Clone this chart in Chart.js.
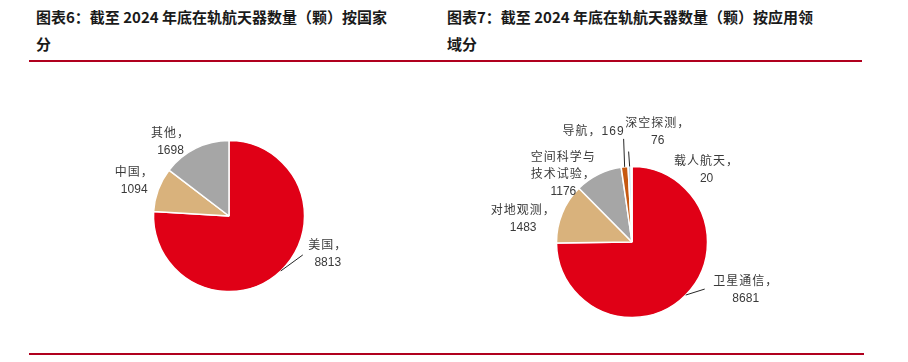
<!DOCTYPE html>
<html>
<head>
<meta charset="utf-8">
<script src="https://cdn.jsdelivr.net/npm/chart.js@4.4.1/dist/chart.umd.min.js"></script>
<style>
  body { margin: 0; width: 908px; height: 362px; background: #fff; overflow: hidden; position: relative;
         font-family: "Noto Sans CJK SC", sans-serif; }
  .title { position: absolute; top: 3px; font-size: 15px; font-weight: bold; line-height: 27px; color: #1a1a1a; white-space: nowrap; }
  .rule { position: absolute; height: 2px; background: #B0001E; }
  canvas { position: absolute; }
</style>
</head>
<body>
<div class="title" style="left:36px">图表6：截至 2024 年底在轨航天器数量（颗）按国家<br>分</div>
<div class="title" style="left:447px">图表7：截至 2024 年底在轨航天器数量（颗）按应用领<br>域分</div>
<div class="rule" style="left:29px; width:833px; top:60px"></div>
<div class="rule" style="left:29px; width:835px; top:353px"></div>

<canvas id="byCountry" width="300" height="280" style="left:79px; top:76px"></canvas>
<canvas id="byUse" width="320" height="260" style="left:472px; top:112px"></canvas>

<script>
// 按国家
var countryNames = ["美国", "中国", "其他"];
var countryValues = [8813, 1094, 1698];
var countryColors = ["#E00016", "#D9B27C", "#A6A6A6"];

// 按应用领域
var useNames = ["卫星通信", "对地观测", "空间科学与技术试验", "导航", "深空探测", "载人航天"];
var useValues = [8681, 1483, 1176, 169, 76, 20];
var useColors = ["#E00016", "#D9B27C", "#A6A6A6", "#C65911", "#BDD7EE", "#44546A"];

// label placement: offset of label centre from the slice's outer edge point,
// optional leader line end (also relative to edge), and where to wrap the name
var countryLabelPos = [
  { dx: 47, dy: -17, line: [22, -16] },
  { dx: -24, dy: -9 },
  { dx: -25, dy: -6 }
];
var useLabelPos = [
  { dx: 60, dy: -5, line: [19, -6] },
  { dx: -39, dy: 6 },
  { dx: -35, dy: 0, wrap: 5 },
  { dx: -31, dy: -35, single: true, line: [-1, -28] },
  { dx: 28, dy: -34, line: [-1, -15] },
  { dx: 75, dy: 4 }
];

var sliceLabels = {
  id: "sliceLabels",
  afterDatasetsDraw: function (chart, args, opts) {
    var ctx = chart.ctx;
    var meta = chart.getDatasetMeta(0);
    var names = chart.data.labels;
    var values = chart.data.datasets[0].data;
    meta.data.forEach(function (arc, i) {
      var p = arc.getProps(["x", "y", "startAngle", "endAngle", "outerRadius"], true);
      var mid = (p.startAngle + p.endAngle) / 2;
      var ex = p.x + Math.cos(mid) * p.outerRadius;
      var ey = p.y + Math.sin(mid) * p.outerRadius;
      var pos = opts.pos[i];
      if (pos.line) {
        ctx.save();
        ctx.strokeStyle = "#262626";
        ctx.lineWidth = 1;
        ctx.beginPath();
        ctx.moveTo(ex, ey);
        ctx.lineTo(ex + pos.line[0], ey + pos.line[1]);
        ctx.stroke();
        ctx.restore();
      }
      var name = names[i];
      var lines;
      if (pos.single) {
        lines = [name + "，" + values[i]];
      } else if (pos.wrap) {
        lines = [name.slice(0, pos.wrap), name.slice(pos.wrap) + "，", String(values[i])];
      } else {
        lines = [name + "，", String(values[i])];
      }
      var cx = ex + pos.dx, cy = ey + pos.dy, lh = 17;
      ctx.save();
      ctx.font = '12px "Liberation Sans", "Noto Sans CJK SC", sans-serif';
      ctx.fillStyle = "#3a3a3a";
      ctx.textAlign = "center";
      ctx.textBaseline = "middle";
      lines.forEach(function (t, k) {
        // a little extra tracking on the CJK lines, like the original Song font
        ctx.letterSpacing = /[\u4e00-\u9fff]/.test(t) ? "1px" : "0px";
        ctx.fillText(t, cx, cy - (lines.length - 1) * lh / 2 + k * lh);
      });
      ctx.restore();
    });
  }
};

function makePie(id, names, values, colors, pos) {
  return new Chart(document.getElementById(id).getContext("2d"), {
    type: "pie",
    data: {
      labels: names,
      datasets: [{
        data: values,
        backgroundColor: colors,
        borderColor: "#ffffff",
        borderWidth: 1.5
      }]
    },
    options: {
      responsive: false,
      animation: false,
      devicePixelRatio: 1,
      radius: 75.5,
      plugins: {
        legend: { display: false },
        tooltip: { enabled: false },
        sliceLabels: { pos: pos }
      }
    },
    plugins: [sliceLabels]
  });
}

var countryChart = makePie("byCountry", countryNames, countryValues, countryColors, countryLabelPos);
var useChart = makePie("byUse", useNames, useValues, useColors, useLabelPos);
</script>
</body>
</html>
